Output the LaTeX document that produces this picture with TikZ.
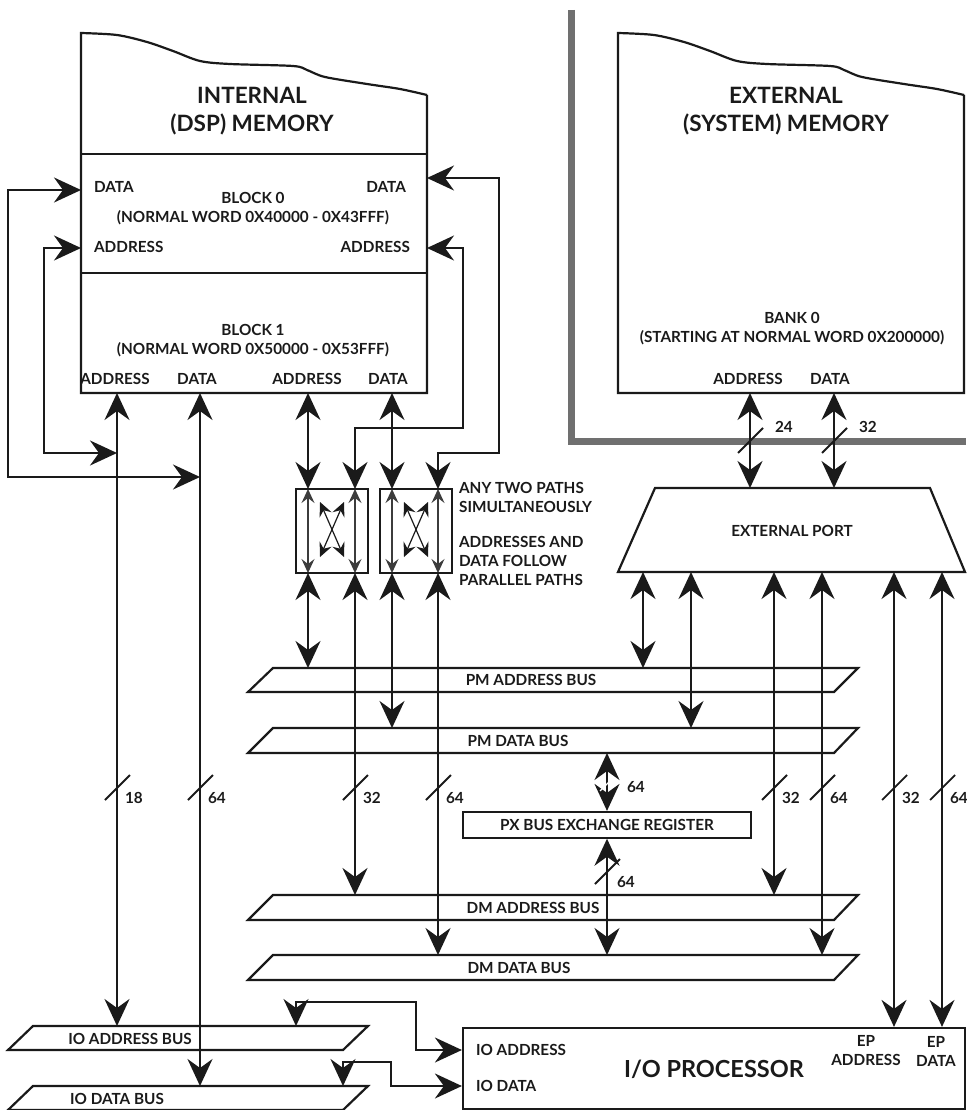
\documentclass[tikz,border=0pt]{standalone}
\usepackage{fontspec}
\setmainfont{Lato}
\usetikzlibrary{arrows.meta}
\definecolor{framegray}{HTML}{707070}
\definecolor{ink}{HTML}{1A1A1A}
\begin{document}
\begin{tikzpicture}[x=1pt,y=-1pt,line width=2.2pt,draw=ink,
  >={Stealth[length=27pt,width=25pt,inset=9pt]},
  smalltips/.style={>={Stealth[length=14pt,width=13pt,inset=5pt]}},
  lbl/.style={font=\fontsize{15.3}{19}\selectfont\bfseries,inner sep=0pt,text=ink},
  big/.style={font=\fontsize{22.5}{28}\selectfont\bfseries,inner sep=0pt,align=center,text=ink},
  widthmark/.style={line width=1.8pt},
  pics/bw/.style={code={\draw[widthmark] (-12,13) -- (13,-12);}},
  xbarline/.style={smalltips,<->,line width=1.1pt,draw=ink!85},
  xcross/.style={smalltips,<->,line width=1.2pt},
]
\useasboundingbox (0,0) rectangle (966,1110);

% ---------- columns and rows ----------
\coordinate (kL1) at (117,0);  \coordinate (kL2) at (200,0);
\coordinate (kA) at (308,0);   \coordinate (kB) at (355,0);
\coordinate (kC) at (392,0);   \coordinate (kD) at (438,0);
\coordinate (kPX) at (607,0);
\coordinate (kE1) at (643,0);  \coordinate (kE2) at (691,0);
\coordinate (kE3) at (774,0);  \coordinate (kE4) at (822,0);
\coordinate (kE5) at (894,0);  \coordinate (kE6) at (942,0);
\coordinate (kXA) at (750,0);  \coordinate (kXD) at (834,0);
\coordinate (kLD) at (8,0);    \coordinate (kLA) at (44,0);
\coordinate (kRA) at (463,0);  \coordinate (kRD) at (499,0);
\coordinate (kIA1) at (296,0); \coordinate (kIA2) at (416,0);
\coordinate (kID1) at (343,0); \coordinate (kID2) at (391,0);
\coordinate (kML) at (81,0);   \coordinate (kMR) at (427,0);

\coordinate (rDL) at (0,190);  \coordinate (rDR) at (0,178);
\coordinate (rAd) at (0,248);  \coordinate (rBot) at (0,393);
\coordinate (rLA) at (0,453);  \coordinate (rLD) at (0,477);
\coordinate (rRD) at (0,453);  \coordinate (rRA) at (0,428);
\coordinate (rXT) at (0,489);  \coordinate (rXB) at (0,573);
\coordinate (rPMAt) at (0,668); \coordinate (rPMDt) at (0,728);
\coordinate (rPMDb) at (0,753);
\coordinate (rDMAt) at (0,895); \coordinate (rDMDt) at (0,955);
\coordinate (rIOAt) at (0,1026); \coordinate (rIODt) at (0,1086);
\coordinate (rEPt) at (0,488); \coordinate (rEPb) at (0,572);
\coordinate (rIOAh) at (0,1002); \coordinate (rIODh) at (0,1062);
\coordinate (rIOa) at (0,1050); \coordinate (rIOd) at (0,1086);
\coordinate (rSl) at (0,787);   \coordinate (rXS) at (0,440);

% ---------- grey frame of external memory ----------
\draw[framegray,line width=7pt] (571,10) -- (571,441) -- (966,441);

% ---------- internal memory ----------
\draw (427,95) -- (427,393) -- (81,393) -- (81,33) -- plot[smooth,tension=0.5] coordinates {(81,33) (117,35) (147,42) (173,51) (200,61) (230,64) (293,66) (307,70) (325,77) (367,84) (400,89) (427,95)};
\draw (81,154) -- (427,154);
\draw (81,273) -- (427,273);
\node[big] (intmem) at (252,111) {INTERNAL\\(DSP) MEMORY};
\node[lbl,anchor=west] (b0dl) at (93,187) {DATA};
\node[lbl,anchor=west] (b0al) at (93,247) {ADDRESS};
\node[lbl,anchor=east] (b0dr) at (407,187) {DATA};
\node[lbl,anchor=east] (b0ar) at (411,247) {ADDRESS};
\node[lbl,align=center] (blk0) at (253,209) {BLOCK 0\\(NORMAL WORD 0X40000 - 0X43FFF)};
\node[lbl,align=center] (blk1) at (253,341) {BLOCK 1\\(NORMAL WORD 0X50000 - 0X53FFF)};
\node[lbl] (b1a1) at (115,379) {ADDRESS};
\node[lbl] (b1d1) at (197,379) {DATA};
\node[lbl] (b1a2) at (307,379) {ADDRESS};
\node[lbl] (b1d2) at (388,379) {DATA};

% ---------- external memory ----------
\begin{scope}[xshift=537pt]
\draw (427,95) -- (427,393) -- (81,393) -- (81,33) -- plot[smooth,tension=0.5] coordinates {(81,33) (117,35) (147,42) (173,51) (200,61) (230,64) (293,66) (307,70) (325,77) (367,84) (400,89) (427,95)};
\end{scope}
\node[big] (extmem) at (786,111) {EXTERNAL\\(SYSTEM) MEMORY};
\node[lbl,align=center] (bank0) at (792,329) {BANK 0\\(STARTING AT NORMAL WORD 0X200000)};
\node[lbl] (exa) at (748,379) {ADDRESS};
\node[lbl] (exd) at (830,379) {DATA};

% ---------- external port ----------
\draw (655,488) -- (930,488) -- (965,572) -- (618,572) -- cycle;
\node[lbl] (eport) at (792,531) {EXTERNAL PORT};

% ---------- crossbar switches ----------
\draw (296,489) rectangle (368,573);
\draw (380,489) rectangle (452,573);
\draw[xbarline] (kA |- rXT) -- (kA |- rXB);
\draw[xbarline] (kB |- rXT) -- (kB |- rXB);
\draw[xbarline] (kC |- rXT) -- (kC |- rXB);
\draw[xbarline] (kD |- rXT) -- (kD |- rXB);
\draw[xcross] (320,502) -- (344,557);
\draw[xcross] (344,502) -- (320,557);
\draw[xcross] (404,502) -- (428,557);
\draw[xcross] (428,502) -- (404,557);
\node[lbl,anchor=west,align=left] (note1) at (458,497) {ANY TWO PATHS\\SIMULTANEOUSLY};
\node[lbl,anchor=west,align=left] (note2) at (458,561) {ADDRESSES AND\\DATA FOLLOW\\PARALLEL PATHS};

% ---------- buses ----------
\draw (248,692) -- (273,668) -- (858,668) -- (834,692) -- cycle;
\node[lbl] (pmab) at (531,680) {PM ADDRESS BUS};
\draw (248,753) -- (273,728) -- (858,728) -- (834,753) -- cycle;
\node[lbl] (pmdb) at (518,741) {PM DATA BUS};
\draw (248,920) -- (273,895) -- (858,895) -- (834,920) -- cycle;
\node[lbl] (dmab) at (533,908) {DM ADDRESS BUS};
\draw (248,980) -- (273,955) -- (858,955) -- (834,980) -- cycle;
\node[lbl] (dmdb) at (519,968) {DM DATA BUS};
\draw (8,1050) -- (33,1026) -- (368,1026) -- (343,1050) -- cycle;
\node[lbl] (ioab) at (130,1039) {IO ADDRESS BUS};
\draw (8,1110) -- (33,1086) -- (368,1086) -- (343,1110) -- cycle;
\node[lbl] (iodb) at (117,1099) {IO DATA BUS};

% ---------- PX register ----------
\node[draw,lbl,minimum width=288pt,minimum height=25.6pt] (px) at (607,824.8) {PX BUS EXCHANGE REGISTER};

% ---------- I/O processor ----------
\node[draw,minimum width=502pt,minimum height=81pt,inner sep=0pt] (iop) at (714,1068.5) {};
\node[big,font=\fontsize{23.5}{28}\selectfont\bfseries] (iopname) at (714,1069) {I/O PROCESSOR};
\node[lbl,anchor=west] (ioal) at (475,1050) {IO ADDRESS};
\node[lbl,anchor=west] (iodl) at (475,1086) {IO DATA};
\node[lbl,align=center] (epal) at (866,1051) {EP\\ADDRESS};
\node[lbl,align=center] (epdl) at (936,1051) {EP\\DATA};

% ---------- block 0 loop connectors ----------
\draw[<->] (kML |- rDL) -| (kLD |- rLD) -- (kL2 |- rLD);
\draw[<->] (kML |- rAd) -| (kLA |- rLA) -- (kL1 |- rLA);
\draw[<->] (kMR |- rDR) -| (kRD |- rRD) -| (kD |- rXT);
\draw[<->] (kMR |- rAd) -| (kRA |- rRA) -| (kB |- rXT);

% ---------- block 1 connectors ----------
\draw[<->] (kL1 |- rBot) -- (kL1 |- rIOAt);
\draw[<->] (kL2 |- rBot) -- (kL2 |- rIODt);
\draw[<->] (kA |- rBot) -- (kA |- rXT);
\draw[<->] (kC |- rBot) -- (kC |- rXT);

% ---------- crossbar to buses ----------
\draw[<->] (kA |- rXB) -- (kA |- rPMAt);
\draw[<->] (kB |- rXB) -- (kB |- rDMAt);
\draw[<->] (kC |- rXB) -- (kC |- rPMDt);
\draw[<->] (kD |- rXB) -- (kD |- rDMDt);

% ---------- external memory to port ----------
\draw[<->] (kXA |- rBot) -- (kXA |- rEPt);
\draw[<->] (kXD |- rBot) -- (kXD |- rEPt);

% ---------- port to buses / IOP ----------
\draw[<->] (kE1 |- rEPb) -- (kE1 |- rPMAt);
\draw[<->] (kE2 |- rEPb) -- (kE2 |- rPMDt);
\draw[<->] (kE3 |- rEPb) -- (kE3 |- rDMAt);
\draw[<->] (kE4 |- rEPb) -- (kE4 |- rDMDt);
\draw[<->] (kE5 |- rEPb) -- (kE5 |- iop.north);
\draw[<->] (kE6 |- rEPb) -- (kE6 |- iop.north);

% ---------- PX connectors ----------
\draw[<->] (kPX |- rPMDb) -- (px.north);
\draw[<->] (px.south) -- (kPX |- rDMDt);

% ---------- IOP to IO buses ----------
\draw[<->] (iop.west |- rIOa) -| (kIA2 |- rIOAh) -| (kIA1 |- rIOAt);
\draw[<->] (iop.west |- rIOd) -| (kID2 |- rIODh) -| (kID1 |- rIODt);

% ---------- bus width marks ----------
\pic at (kL1 |- rSl) {bw};  \node[lbl,anchor=west] (w18) at (124,798) {18};
\pic at (kL2 |- rSl) {bw};  \node[lbl,anchor=west] (w64a) at (207,798) {64};
\pic at (kB |- rSl) {bw};   \node[lbl,anchor=west] (w32a) at (362,798) {32};
\pic at (kD |- rSl) {bw};   \node[lbl,anchor=west] (w64b) at (445,798) {64};
\pic at (kE3 |- rSl) {bw};  \node[lbl,anchor=west] (w32b) at (781,798) {32};
\pic at (kE4 |- rSl) {bw};  \node[lbl,anchor=west] (w64c) at (829,798) {64};
\pic at (kE5 |- rSl) {bw};  \node[lbl,anchor=west] (w32c) at (901,798) {32};
\pic at (kE6 |- rSl) {bw};  \node[lbl,anchor=west] (w64d) at (949,798) {64};
\pic at (kXA |- rXS) {bw};  \node[lbl,anchor=west] (w24) at (774,427) {24};
\pic at (kXD |- rXS) {bw};  \node[lbl,anchor=west] (w32d) at (858,427) {32};
\draw[white,line width=1.2pt] (600,791) -- (614,777);
\node[lbl,anchor=west] (w64e) at (626,787) {64};
\pic at (607,871) {bw};     \node[lbl,anchor=west] (w64f) at (616,882) {64};
\end{tikzpicture}
\end{document}
